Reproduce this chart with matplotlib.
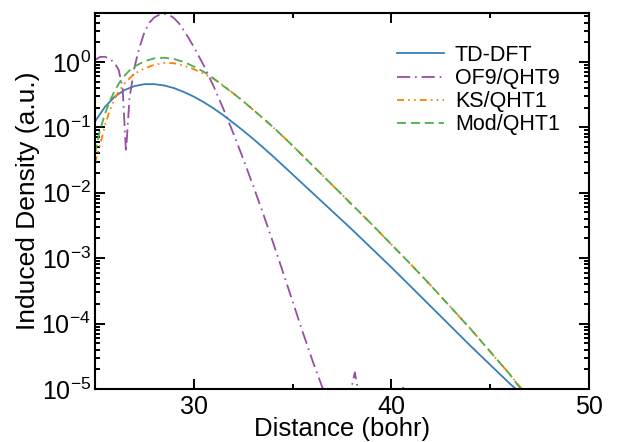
import numpy as np
import matplotlib
matplotlib.use('Agg')
import matplotlib.pyplot as plt

plt.rcParams['font.family'] = ['Liberation Sans', 'DejaVu Sans']
plt.rcParams['mathtext.fontset'] = 'custom'
plt.rcParams['mathtext.rm'] = 'Liberation Sans'
plt.rcParams['mathtext.it'] = 'Liberation Sans'
plt.rcParams['mathtext.default'] = 'regular'
plt.rcParams['lines.scale_dashes'] = False

# values (distance in bohr, induced density in a.u.)
x_tddft = [25.0, 25.5, 26.0, 26.5, 27.0, 27.5, 28.0, 28.5, 29.0, 29.5, 30.0, 30.5,
           31.0, 31.5, 32.0, 32.5, 33.0, 33.5, 34.0, 35.0, 36.0, 37.0, 38.0, 39.0,
           40.0, 41.0, 42.0, 43.0, 44.0, 45.0, 46.0, 46.3, 47.0]
y_tddft = [0.123, 0.204, 0.295, 0.372, 0.427, 0.457, 0.457, 0.437, 0.398, 0.347,
           0.295, 0.243, 0.195, 0.153, 0.117, 0.0891, 0.0668, 0.0495, 0.0363,
           0.0191, 0.0100, 5.25e-3, 2.75e-3, 1.41e-3, 7.24e-4, 3.63e-4, 1.82e-4,
           9.12e-5, 4.57e-5, 2.34e-5, 1.20e-5, 1.0e-5, 6.3e-6]

x_of9 = [25.0, 25.25, 25.5, 25.75, 26.0, 26.2, 26.4, 26.57, 26.75, 27.0, 27.25,
         27.5, 27.75, 28.0, 28.25, 28.5, 28.75, 29.0, 29.25, 29.5, 29.75, 30.0,
         30.5, 31.0, 31.5, 32.0, 32.5, 33.0, 33.5, 34.0, 34.5, 35.0, 35.5, 36.0,
         36.5, 37.0, 37.6, 38.15, 38.6, 39.5, 40.6, 41.5]
y_of9 = [1.07, 1.19, 1.20, 1.12, 0.955, 0.759, 0.398, 0.0417, 0.282, 0.832, 1.66,
         2.82, 3.98, 4.79, 5.25, 5.43, 5.25, 4.68, 3.89, 3.02, 2.29, 1.70, 0.891,
         0.427, 0.191, 0.0813, 0.0331, 0.0129, 4.9e-3, 1.78e-3, 6.3e-4, 2.19e-4,
         7.6e-5, 2.75e-5, 1.07e-5, 5.0e-6, 3.0e-6, 1.8e-5, 3.0e-6, 2.0e-6,
         1.05e-5, 2.0e-6]

x_ks = [25.0, 25.25, 25.5, 25.75, 26.0, 26.25, 26.5, 26.75, 27.0, 27.5, 28.0,
        28.5, 29.0, 29.5, 30.0, 30.5, 31.0, 31.5, 32.0, 32.5, 33.0, 33.5, 34.0,
        35.0, 36.0, 37.0, 38.0, 39.0, 40.0, 41.0, 42.0, 43.0, 44.0, 45.0, 46.0,
        46.6, 47.2]
y_ks = [0.0282, 0.0525, 0.105, 0.182, 0.275, 0.372, 0.468, 0.562, 0.661, 0.794,
        0.902, 0.966, 0.955, 0.881, 0.776, 0.661, 0.550, 0.437, 0.331, 0.251,
        0.186, 0.138, 0.102, 0.0525, 0.0263, 0.0132, 6.61e-3, 3.31e-3, 1.62e-3,
        7.94e-4, 3.80e-4, 1.78e-4, 8.32e-5, 3.72e-5, 1.66e-5, 1.0e-5, 6.0e-6]

x_mod = [25.0, 25.25, 25.5, 25.75, 26.0, 26.25, 26.5, 26.75, 27.0, 27.5, 28.0,
         28.5, 29.0, 29.5, 30.0, 30.5, 31.0, 31.5, 32.0, 32.5, 33.0, 33.5, 34.0,
         35.0, 36.0, 37.0, 38.0, 39.0, 40.0, 41.0, 42.0, 43.0, 44.0, 45.0, 46.0,
         46.55, 47.2]
y_mod = [0.0398, 0.0891, 0.158, 0.251, 0.363, 0.490, 0.617, 0.741, 0.851, 1.023,
         1.135, 1.161, 1.109, 1.0, 0.851, 0.708, 0.562, 0.427, 0.331, 0.251,
         0.186, 0.138, 0.102, 0.0525, 0.0263, 0.0132, 6.61e-3, 3.31e-3, 1.62e-3,
         7.94e-4, 3.80e-4, 1.78e-4, 8.32e-5, 3.72e-5, 1.66e-5, 1.0e-5, 6.0e-6]

fig = plt.figure(figsize=(6.33, 4.42), dpi=100)
ax = fig.add_axes([0.150, 0.12, 0.7805, 0.8506])

ax.plot(x_tddft, y_tddft, color='#377eb8', lw=1.3, label='TD-DFT')
ax.plot(x_of9, y_of9, color='#984ea3', lw=1.3, dashes=(9.5, 3.5, 1.2, 3.5),
        label='OF9/QHT9')
ax.plot(x_ks, y_ks, color='#ff7f00', lw=1.3, dashes=(5, 3, 1.2, 3, 1.2, 3),
        label='KS/QHT1')
ax.plot(x_mod, y_mod, color='#4daf4a', lw=1.3, dashes=(6.5, 3.5), label='Mod/QHT1')

ax.set_yscale('log')
ax.set_xlim(25, 50)
ax.set_ylim(1e-5, 5.6)
ax.set_xticks([30, 40, 50])
ax.set_xticks([35, 45], minor=True)
ax.set_yticks([1e-5, 1e-4, 1e-3, 1e-2, 1e-1, 1e0])
ax.set_yticklabels(['$10^{-5}$', '$10^{-4}$', '$10^{-3}$', '$10^{-2}$',
                    '$10^{-1}$', '$10^{0}$'])

ax.tick_params(which='both', direction='in', top=True, right=True, width=1.4)
ax.tick_params(which='major', length=7, labelsize=18)
ax.tick_params(which='minor', length=3.5)
ax.tick_params(axis='x', pad=4)
ax.tick_params(axis='y', pad=3)
for s in ax.spines.values():
    s.set_linewidth(1.5)

ax.set_xlabel('Distance (bohr)', fontsize=18.5, labelpad=-1)
ax.set_ylabel('Induced Density (a.u.)', fontsize=19, labelpad=1)

ax.legend(loc='upper left', bbox_to_anchor=(0.611, 0.915), frameon=False,
          fontsize=15.5, borderpad=0, borderaxespad=0, handlelength=2.2,
          handletextpad=0.5, labelspacing=0.1)

fig.savefig('out.png', dpi=100)
